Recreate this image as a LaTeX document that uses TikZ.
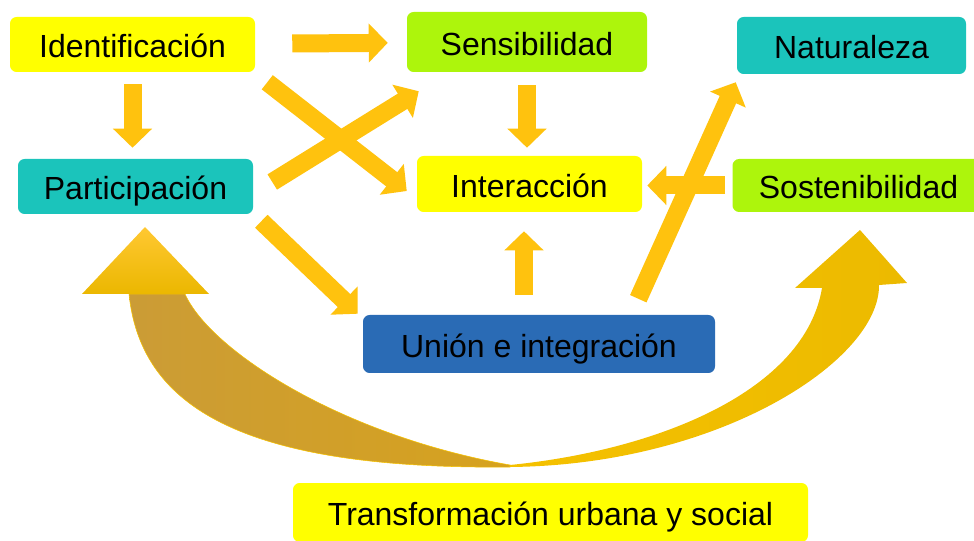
\documentclass[tikz,border=0pt]{standalone}
\usepackage{fontspec}
\setmainfont{Liberation Sans}
\usepackage{tikz}
\usetikzlibrary{arrows.meta, positioning, calc}
\definecolor{cYEL}{HTML}{FFFF00}
\definecolor{cLIME}{HTML}{ADF50C}
\definecolor{cTEAL}{HTML}{1BC4BB}
\definecolor{cBLUE}{HTML}{2A6BB5}
\definecolor{cARR}{HTML}{FFC20E}
\definecolor{cGOLDL}{HTML}{CB9C36}
\definecolor{cGOLDM}{HTML}{D6A21E}
\definecolor{cGOLDR}{HTML}{ECBA00}
\definecolor{cGOLDS}{HTML}{F5C100}
\definecolor{cHEADT}{HTML}{FFC832}
\definecolor{cHEADB}{HTML}{EBB700}

\begin{document}
\begin{tikzpicture}[x=0.75pt, y=-0.75pt,
  box/.style={rectangle, rounded corners=5pt, inner sep=0pt,
    font=\fontsize{24}{28}\selectfont, text height=22pt, text depth=2pt},
  blk/.style={line width=13.5pt, cARR, -{Triangle[width=28.5pt, length=14.25pt]}}]
  \useasboundingbox (0,0) rectangle (974,541);

  % Concept boxes
  \node[box, fill=cYEL, minimum width=183.75pt, minimum height=41.25pt] (ident) at (132.5,44.5) {Identificación};
  \node[box, fill=cLIME, minimum width=180pt, minimum height=45pt] (sens) at (527,42) {Sensibilidad};
  \node[box, fill=cTEAL, minimum width=171.75pt, minimum height=42.75pt] (natur) at (851.5,45.5) {Naturaleza};
  \node[box, fill=cTEAL, minimum width=176.25pt, minimum height=41.25pt] (partic) at (135.5,186.5) {Participación};
  \node[box, fill=cYEL, minimum width=168.75pt, minimum height=42pt] (inter) at (529.5,184) {Interacción};
  \node[box, fill=cLIME, minimum width=189pt, minimum height=39.75pt] (sosten) at (858.5,185.5) {Sostenibilidad};
  \node[box, fill=cBLUE, minimum width=264pt, minimum height=43.5pt] (union) at (539,344) {Unión e integración};
  \node[box, fill=cYEL, minimum width=386.25pt, minimum height=44.25pt] (transf) at (550.5,512.5) {Transformación urbana y social};

  % Straight block arrows
  \draw[blk, shorten <=27.75pt, shorten >=14.25pt] (ident) -- (sens);
  \draw[blk, shorten <=9pt, shorten >=8.25pt] (ident.south) -- (ident.south |- partic.north);
  \draw[blk] ([shift={(12,10)}]ident.south east) -- ([shift={(-10,7)}]inter.west);
  \draw[blk] ([shift={(19,-4.5)}]partic.east) -- ([shift={(12,19)}]sens.south west);
  \draw[blk] ([shift={(8,7)}]partic.south east) -- ([shift={(-5,-1)}]union.north west);
  \draw[blk, shorten <=9.75pt, shorten >=6pt] (sens.south) -- (sens.south |- inter.north);
  \draw[blk] ([shift={(-15,-20)}]union.north) -- ([shift={(-5.5,19)}]inter.south);
  \draw[blk, shorten <=5.25pt, shorten >=3.75pt] (sosten.west) -- (sosten.west -| inter.east);
  \draw[blk] ([shift={(-77,-16)}]union.north east) -- ([shift={(-1,8)}]natur.south west);

  % Return arrow, left half
  \shade[left color=cGOLDL, right color=cGOLDM, draw=cGOLDS, line width=0.4pt]
    (129,294) .. controls (140,400) and (230,470) .. (510,467)
    -- (510,465) .. controls (340,435) and (210,350) .. (185,294) -- cycle;
  \shade[top color=cHEADT, bottom color=cHEADB] (82,294) -- (145,227) -- (209,294) -- cycle;

  % Return arrow, right half
  \shade[left color=cGOLDS, right color=cGOLDR]
    (510,467) .. controls (720,465) and (880,360) .. (879,285)
    -- (907,283) -- (860,230) -- (795,288) -- (822,288)
    .. controls (805,390) and (660,450) .. (510,465) -- cycle;
\end{tikzpicture}
\end{document}
